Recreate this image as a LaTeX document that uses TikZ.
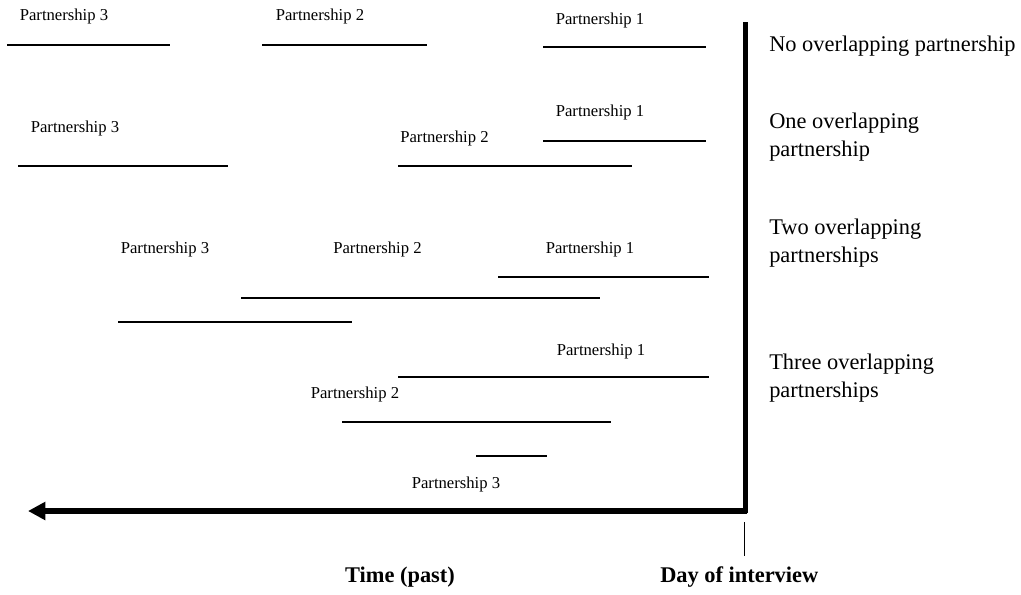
\documentclass[tikz,border=0pt]{standalone}
\usepackage{fontspec}
\setmainfont{Liberation Serif}
\usetikzlibrary{arrows.meta}
\begin{document}
\begin{tikzpicture}[x=0.75pt,y=-0.75pt,
  plabel/.style={font=\fontsize{12.5}{14}\selectfont, inner sep=0pt},
  rlabel/.style={font=\fontsize{16.8}{21}\selectfont, align=left, anchor=west, inner sep=0pt},
  blabel/.style={font=\fontsize{16.8}{21}\selectfont\bfseries, inner sep=0pt},
  pline/.style={line width=1.5pt},
  axisline/.style={line width=3.8pt}]
\useasboundingbox (0,0) rectangle (1021,594);
% axes
\coordinate (top) at (745.5,22);
\coordinate (corner) at (745.5,511);
\coordinate (left) at (28,511);
\coordinate (tickA) at (744.5,522);
\coordinate (tickB) at (744.5,556);
\draw[axisline] (top) -- ([yshift=-1.4pt]corner);
\draw[axisline, -{Triangle[length=13pt,width=13pt]}] ([xshift=1.4pt]corner) -- (left);
\draw[line width=1pt] (tickA) -- (tickB);
\node[blabel] (tp) at (400,577) {Time (past)};
\node[blabel, anchor=west] (di) at (660,577) {Day of interview};
% row 1
\node[plabel] (r1p3) at (64,16) {Partnership 3};
\node[plabel] (r1p2) at (320,16) {Partnership 2};
\node[plabel] (r1p1) at (600,20) {Partnership 1};
\coordinate (r1a1) at (543,47); \coordinate (r1b1) at (706,47);
\coordinate (r1a2) at (262,45); \coordinate (r1b2) at (427,45);
\coordinate (r1a3) at (7,45); \coordinate (r1b3) at (170,45);
\draw[pline] (r1a1) -- (r1b1);
\draw[pline] (r1a2) -- (r1b2);
\draw[pline] (r1a3) -- (r1b3);
\node[rlabel] (l1) at (769,46) {No overlapping partnership};
% row 2
\node[plabel] (r2p3) at (75,128) {Partnership 3};
\node[plabel] (r2p2) at (444.5,138) {Partnership 2};
\node[plabel] (r2p1) at (600,112) {Partnership 1};
\coordinate (r2a1) at (543,141); \coordinate (r2b1) at (706,141);
\coordinate (r2a2) at (398,166); \coordinate (r2b2) at (632,166);
\coordinate (r2a3) at (18,166); \coordinate (r2b3) at (228,166);
\draw[pline] (r2a1) -- (r2b1);
\draw[pline] (r2a2) -- (r2b2);
\draw[pline] (r2a3) -- (r2b3);
\node[rlabel] (l2) at (769,137) {One overlapping\\partnership};
% row 3
\node[plabel] (r3p3) at (165,249) {Partnership 3};
\node[plabel] (r3p2) at (377.5,249) {Partnership 2};
\node[plabel] (r3p1) at (590,249) {Partnership 1};
\coordinate (r3a1) at (498,277); \coordinate (r3b1) at (709,277);
\coordinate (r3a2) at (241,298); \coordinate (r3b2) at (600,298);
\coordinate (r3a3) at (118,322); \coordinate (r3b3) at (352,322);
\draw[pline] (r3a1) -- (r3b1);
\draw[pline] (r3a2) -- (r3b2);
\draw[pline] (r3a3) -- (r3b3);
\node[rlabel] (l3) at (769,243) {Two overlapping\\partnerships};
% row 4
\node[plabel] (r4p1) at (601,351) {Partnership 1};
\node[plabel] (r4p2) at (355,394) {Partnership 2};
\node[plabel] (r4p3) at (456,484) {Partnership 3};
\coordinate (r4a1) at (398,377); \coordinate (r4b1) at (709,377);
\coordinate (r4a2) at (342,422); \coordinate (r4b2) at (611,422);
\coordinate (r4a3) at (476,456); \coordinate (r4b3) at (547,456);
\draw[pline] (r4a1) -- (r4b1);
\draw[pline] (r4a2) -- (r4b2);
\draw[pline] (r4a3) -- (r4b3);
\node[rlabel] (l4) at (769,378) {Three overlapping\\partnerships};
\end{tikzpicture}
\end{document}
